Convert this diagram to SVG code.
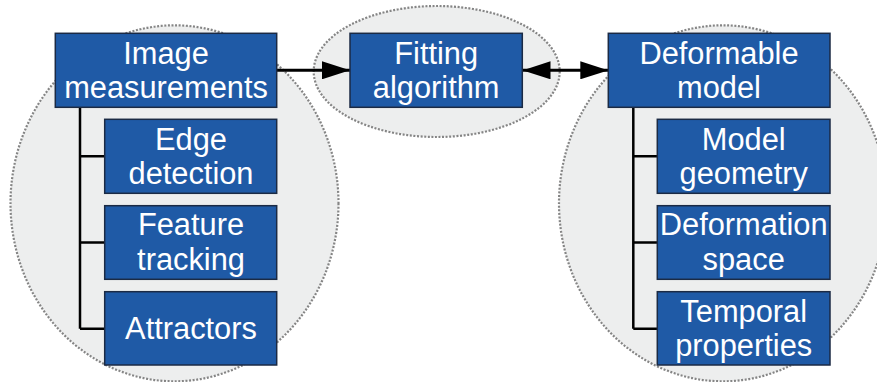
<svg xmlns="http://www.w3.org/2000/svg" width="877" height="382" viewBox="0 0 877 382">
  <style>
    .zone { fill: #edeeee; stroke: #858585; stroke-width: 2.2; stroke-dasharray: 2 1.6; }
    .box { fill: #1f5aa6; stroke: #1b2a44; stroke-width: 1.5; }
    .label { fill: #ffffff; font-family: "Liberation Sans", Arial, sans-serif; font-size: 30.8px; text-anchor: middle; }
    .link { fill: none; stroke: #000000; stroke-width: 3; }
    .tree { fill: none; stroke: #000000; stroke-width: 2.5; }
  </style>
  <defs>
    <marker id="arrowEnd" viewBox="0 0 28 18" refX="28" refY="9" markerWidth="28" markerHeight="18" markerUnits="userSpaceOnUse" orient="auto">
      <path d="M0,0 L28,9 L0,18 Z" fill="#000000"/>
    </marker>
    <marker id="arrowStart" viewBox="0 0 28 18" refX="0" refY="9" markerWidth="28" markerHeight="18" markerUnits="userSpaceOnUse" orient="auto">
      <path d="M28,0 L0,9 L28,18 Z" fill="#000000"/>
    </marker>
  </defs>

  <!-- grouping zones -->
  <g id="zones">
    <ellipse class="zone" cx="174.5" cy="203.3" rx="164" ry="178"/>
    <ellipse class="zone" cx="436.7" cy="71.5" rx="123" ry="65.5"/>
    <ellipse class="zone" cx="723" cy="203.3" rx="164" ry="178"/>
  </g>

  <!-- connectors -->
  <g id="connectors">
    <path class="tree" d="M80,107 V328.7 M80,156.3 H105 M80,242.5 H105 M80,328.7 H105"/>
    <path class="tree" d="M633.3,107 V328.7 M633.3,156.3 H657.3 M633.3,242.5 H657.3 M633.3,328.7 H657.3"/>
    <line class="link" x1="277" y1="70.3" x2="350" y2="70.3" marker-end="url(#arrowEnd)"/>
    <line class="link" x1="522.5" y1="70.3" x2="608.3" y2="70.3" marker-start="url(#arrowStart)" marker-end="url(#arrowEnd)"/>
  </g>

  <!-- left tree -->
  <g id="image-measurements">
    <rect class="box" x="55.3" y="33.3" width="221.4" height="74"/>
    <text class="label" x="166" y="63.8">Image</text>
    <text class="label" x="166" y="98.2">measurements</text>
  </g>
  <g id="edge-detection">
    <rect class="box" x="104.7" y="119.3" width="172" height="74"/>
    <text class="label" x="191" y="149.5">Edge</text>
    <text class="label" x="191" y="184.2">detection</text>
  </g>
  <g id="feature-tracking">
    <rect class="box" x="104.7" y="205.7" width="172" height="73.6"/>
    <text class="label" x="191" y="235.4">Feature</text>
    <text class="label" x="191" y="270.1">tracking</text>
  </g>
  <g id="attractors">
    <rect class="box" x="104.7" y="291.7" width="172" height="73.3"/>
    <text class="label" x="191" y="338.6">Attractors</text>
  </g>

  <!-- center -->
  <g id="fitting-algorithm">
    <rect class="box" x="350" y="33.3" width="172.3" height="74"/>
    <text class="label" x="436.2" y="63.8">Fitting</text>
    <text class="label" x="436.2" y="98.2">algorithm</text>
  </g>

  <!-- right tree -->
  <g id="deformable-model">
    <rect class="box" x="608.3" y="33.3" width="221.7" height="74"/>
    <text class="label" x="719" y="63.8">Deformable</text>
    <text class="label" x="719" y="98.2">model</text>
  </g>
  <g id="model-geometry">
    <rect class="box" x="657.3" y="119.3" width="172.7" height="74"/>
    <text class="label" x="743.7" y="149.5">Model</text>
    <text class="label" x="743.7" y="184.2">geometry</text>
  </g>
  <g id="deformation-space">
    <rect class="box" x="657.3" y="205.7" width="172.7" height="73.6"/>
    <text class="label" x="743.7" y="235.4">Deformation</text>
    <text class="label" x="743.7" y="270.1">space</text>
  </g>
  <g id="temporal-properties">
    <rect class="box" x="657.3" y="291.7" width="172.7" height="73.3"/>
    <text class="label" x="743.7" y="321.7">Temporal</text>
    <text class="label" x="743.7" y="356.2">properties</text>
  </g>
</svg>
